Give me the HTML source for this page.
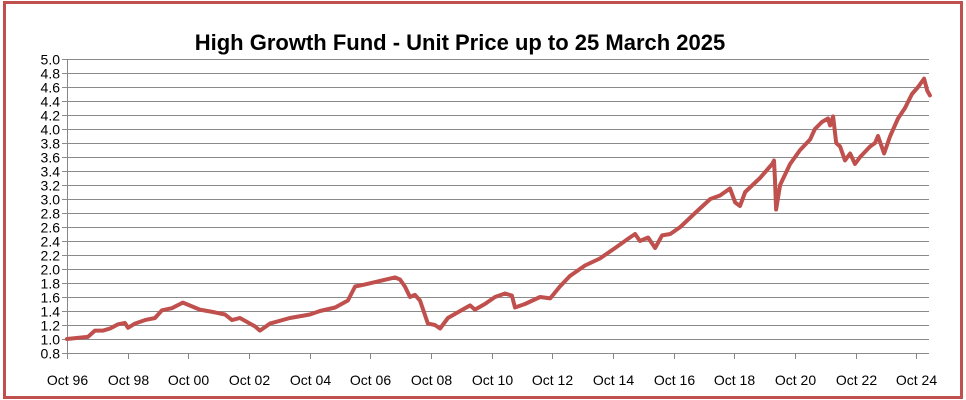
<!DOCTYPE html>
<html><head><meta charset="utf-8"><style>
html,body{margin:0;padding:0;background:#fff;}
svg{display:block;font-family:"Liberation Sans",sans-serif;}
</style></head><body>
<svg id="chart" width="966" height="400">
<rect x="4.5" y="2.5" width="957" height="395" fill="none" stroke="#c0504d" stroke-width="3"/>
<text x="460" y="50" text-anchor="middle" font-size="22" font-weight="bold" fill="#000">High Growth Fund - Unit Price up to 25 March 2025</text>
<g id="grid"></g><g id="yt"></g><g id="xt"></g><g id="series"></g>
</svg>
<script>
const yTicks=[0.8,1.0,1.2,1.4,1.6,1.8,2.0,2.2,2.4,2.6,2.8,3.0,3.2,3.4,3.6,3.8,4.0,4.2,4.4,4.6,4.8,5.0];
const xTickYears=[1996.75,1998.75,2000.75,2002.75,2004.75,2006.75,2008.75,2010.75,2012.75,2014.75,2016.75,2018.75,2020.75,2022.75,2024.75];
const xTickLabels=["Oct 96","Oct 98","Oct 00","Oct 02","Oct 04","Oct 06","Oct 08","Oct 10","Oct 12","Oct 14","Oct 16","Oct 18","Oct 20","Oct 22","Oct 24"];
const dates=[1996.75,1997.18,1997.44,1997.67,1997.94,1998.17,1998.43,1998.66,1998.76,1998.99,1999.32,1999.65,1999.88,2000.21,2000.48,2000.57,2001.13,2001.63,2001.96,2002.19,2002.45,2002.95,2003.11,2003.44,2004.10,2004.76,2005.09,2005.59,2006.01,2006.25,2006.58,2007.07,2007.56,2007.73,2007.89,2008.06,2008.22,2008.39,2008.65,2008.88,2009.05,2009.31,2009.71,2010.04,2010.20,2010.53,2010.86,2011.19,2011.42,2011.52,2011.85,2012.35,2012.68,2013.00,2013.33,2013.83,2014.32,2014.82,2015.31,2015.48,2015.64,2015.91,2016.14,2016.37,2016.64,2016.97,2017.46,2017.96,2018.28,2018.61,2018.78,2018.94,2019.11,2019.60,2020.00,2020.06,2020.09,2020.13,2020.26,2020.59,2020.92,2021.25,2021.41,2021.64,2021.84,2021.91,2022.01,2022.11,2022.24,2022.40,2022.57,2022.73,2022.90,2023.23,2023.39,2023.49,2023.69,2023.89,2024.15,2024.38,2024.61,2024.81,2025.01,2025.11,2025.20];
const prices=[1.0,1.02,1.03,1.12,1.12,1.15,1.21,1.23,1.16,1.22,1.27,1.3,1.41,1.44,1.5,1.52,1.42,1.38,1.35,1.27,1.3,1.18,1.12,1.22,1.3,1.35,1.4,1.45,1.55,1.75,1.78,1.83,1.88,1.85,1.75,1.6,1.63,1.55,1.22,1.2,1.15,1.3,1.4,1.48,1.42,1.5,1.6,1.65,1.62,1.45,1.5,1.6,1.58,1.75,1.9,2.05,2.15,2.3,2.45,2.5,2.4,2.45,2.3,2.48,2.5,2.6,2.8,3.0,3.05,3.15,2.95,2.9,3.1,3.3,3.5,3.55,3.3,2.85,3.2,3.5,3.7,3.85,4.0,4.1,4.15,4.05,4.18,3.8,3.75,3.55,3.65,3.5,3.6,3.75,3.8,3.9,3.65,3.9,4.15,4.3,4.5,4.6,4.72,4.55,4.48];
const X0=67,X1=929,T0=1996.75,PXY=30.33,Y0=353,PXV=70;
const xs=t=>X0+(t-T0)*PXY, ys=v=>Y0-(v-0.8)*PXV;
const NS="http://www.w3.org/2000/svg";
function mk(tag,parent,attrs){const e=document.createElementNS(NS,tag);for(const k in attrs)e.setAttribute(k,attrs[k]);parent.appendChild(e);return e;}
const grid=document.getElementById('grid'),yt=document.getElementById('yt'),xt=document.getElementById('xt'),ser=document.getElementById('series');
yTicks.forEach(v=>{
 const y=Math.round(ys(v))+0.5;
 const l=mk('line',grid,{x1:X0-5,x2:X1,y1:y,y2:y,stroke:'#8a8a8a','stroke-width':1});
 
 
 const t=mk('text',yt,{x:60,y:y+5,'text-anchor':'end','font-size':14,fill:'#000'});
 t.textContent=v.toFixed(1);
 
 
});
const ax=mk('line',grid,{x1:X0+0.5,x2:X0+0.5,y1:ys(5.0),y2:Y0,stroke:'#868686','stroke-width':1});


xTickYears.forEach((yr,i)=>{
 const x=Math.round(xs(yr))+0.5;
 const tk=mk('line',xt,{x1:x,x2:x,y1:Y0,y2:Y0+6,stroke:'#868686','stroke-width':1});
 
 
 const t=mk('text',xt,{x:x,y:385,'text-anchor':'middle','font-size':14,fill:'#000'});
 t.textContent=xTickLabels[i];
 
 
});
const d=dates.map((t,i)=>(i?'L':'M')+xs(t).toFixed(1)+','+ys(prices[i]).toFixed(1)).join(' ');
const p=mk('path',ser,{d:d,fill:'none',stroke:'#c0504d','stroke-width':4,'stroke-linejoin':'round','stroke-linecap':'round'});


</script>
</body></html>
